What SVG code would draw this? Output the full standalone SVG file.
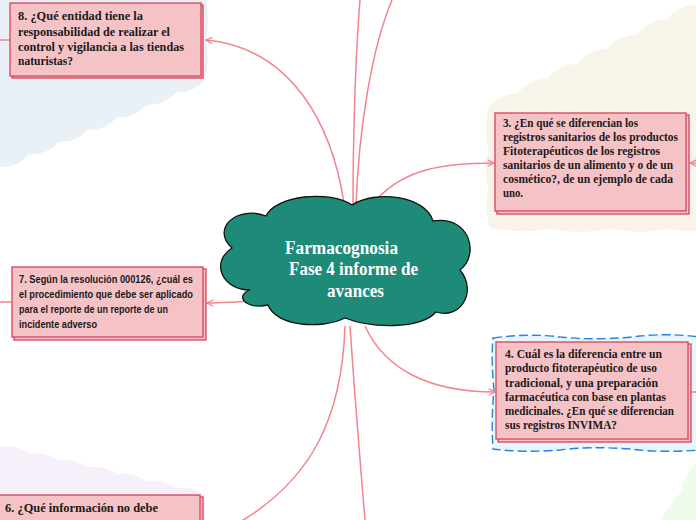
<svg xmlns="http://www.w3.org/2000/svg" width="696" height="520" viewBox="0 0 696 520">
<defs>
<style>
.bx{fill:#f5c3c6;stroke:#d8435c;stroke-width:1.3}
.t{font-family:"Liberation Serif","DejaVu Serif",serif;font-weight:bold;font-size:12.5px;fill:#1a1a1a}
.ts{font-family:"Liberation Sans","DejaVu Sans",sans-serif;font-weight:bold;font-size:11.5px;fill:#1a1a1a}
.c{font-family:"Liberation Serif","DejaVu Serif",serif;font-weight:bold;font-size:18px;fill:#ffffff}
.ln{fill:none;stroke:#f4828f;stroke-width:1.5}
</style>
<marker id="arr" viewBox="0 0 10 10" refX="9" refY="5" markerWidth="8" markerHeight="8" markerUnits="userSpaceOnUse" orient="auto">
<path d="M1,1 L9,5 L1,9" fill="none" stroke="#f4828f" stroke-width="1.6"/>
</marker>
</defs>
<rect width="696" height="520" fill="#ffffff"/>
<g id="backgrounds">
<path fill="#e9f1f7" d="M0,0 H206 Q210,20 206,40 Q210,60 205,80 Q193.4,93.2 175.7,92.4 Q164,105.7 146.4,104.9 Q134.8,118.1 117.1,117.3 Q105.5,130.5 87.9,129.7 Q76.2,142.9 58.6,142.1 Q47,155.4 29.3,154.6 Q17.6,167.8 0,167 Z"/>
<path fill="#f8f4e9" d="M696,5 Q678.1,5.4 666.3,19.7 Q648.4,20.1 636.6,34.4 Q618.7,34.8 606.9,49.1 Q589,49.5 577.1,63.9 Q559.3,64.3 547.4,78.6 Q529.6,79 517.7,93.3 Q499.9,93.7 488,108 Q484,130 488,150 Q484,170 488,190 Q484,210 490,228 Q520,234 550,229 Q580,235 610,229 Q640,235 670,229 Q685,233 696,230 Z"/>
<path fill="#e6f7fb" stroke="#2a7fe0" stroke-width="1.4" stroke-dasharray="9 4" d="M493,338 Q530,333 560,337 Q600,341 640,336 Q670,333 700,337 L700,450 Q660,453 630,449 Q590,446 560,450 Q525,453 493,449 Q491,420 494,390 Q491,360 493,338 Z"/>
<path fill="#eefaea" d="M696,462 Q690,468 688,475 Q680,485 682,492 Q672,500 670,508 Q662,512 662,520 L696,520 Z"/>
<path fill="#f6f0fb" d="M0,447 Q16.1,443.9 29.3,453.9 Q45.5,450.8 58.6,460.7 Q74.7,457.6 87.9,467.6 Q104,464.5 117.1,474.4 Q133.3,471.4 146.4,481.3 Q162.5,478.2 175.7,488.1 Q191.9,485.1 205,495 L205,520 L0,520 Z"/>
</g>
<g id="connectors">
<path class="ln" d="M353,205 C353,150 355,60 360,0"/>
<path class="ln" d="M356,205 C359,130 371,50 392,0"/>
<path class="ln" d="M344,203 C332,125 292,48 206,40" marker-end="url(#arr)"/>
<path class="ln" d="M378,198 C405,170 440,163 494,163" marker-end="url(#arr)"/>
<path class="ln" d="M252,301 C235,302 222,303 207,303" marker-end="url(#arr)"/>
<path class="ln" d="M365,326 C385,370 430,392 495,392" marker-end="url(#arr)"/>
<path class="ln" d="M350,326 C355,400 360,460 365,520"/>
<path class="ln" d="M345,326 C342,420 310,480 240,522"/>
<path class="ln" d="M0,40 H10"/>
<path class="ln" d="M0,302 H12"/>
<path class="ln" d="M696,163 H690" marker-end="url(#arr)"/>
<path class="ln" d="M690,392 H696"/>
</g>
<g id="node-center">
<path fill="#1e8a78" stroke="#111" stroke-width="1.3" d="M250,290 C222,290 210,262 232,248 C210,228 238,205 266,216 C276,195 330,190 352,205 C375,190 425,195 433,221 C470,215 480,255 460,270 C478,292 460,320 436,312 C420,330 370,328 345,318 C320,330 276,326 268,305 C246,310 234,296 250,290 Z"/>
<text class="c" x="285" y="254" textLength="113" lengthAdjust="spacingAndGlyphs">Farmacognosia</text>
<text class="c" x="289" y="275" textLength="129" lengthAdjust="spacingAndGlyphs">Fase 4 informe de</text>
<text class="c" x="327" y="297" textLength="57" lengthAdjust="spacingAndGlyphs">avances</text>
</g>
<g id="node-8">
<rect class="bx" x="12" y="5" width="191" height="73"/>
<rect class="bx" x="10" y="3" width="191" height="73"/>
<text class="t" x="18" y="20" textLength="125" lengthAdjust="spacingAndGlyphs">8. ¿Qué entidad tiene la</text>
<text class="t" x="18" y="36" textLength="152" lengthAdjust="spacingAndGlyphs">responsabilidad de realizar el</text>
<text class="t" x="18" y="51" textLength="166" lengthAdjust="spacingAndGlyphs">control y vigilancia a las tiendas</text>
<text class="t" x="18" y="65" textLength="55" lengthAdjust="spacingAndGlyphs">naturistas?</text>
</g>
<g id="node-3">
<rect class="bx" x="497" y="115" width="192" height="99"/>
<rect class="bx" x="495" y="113" width="191" height="98"/>
<text class="t" x="503" y="127" textLength="135" lengthAdjust="spacingAndGlyphs">3. ¿En qué se diferencian los</text>
<text class="t" x="503" y="141" textLength="175" lengthAdjust="spacingAndGlyphs">registros sanitarios de los productos</text>
<text class="t" x="503" y="155" textLength="157" lengthAdjust="spacingAndGlyphs">Fitoterapéuticos de los registros</text>
<text class="t" x="503" y="169" textLength="170" lengthAdjust="spacingAndGlyphs">sanitarios de un alimento y o de un</text>
<text class="t" x="503" y="183" textLength="170" lengthAdjust="spacingAndGlyphs">cosmético?, de un ejemplo de cada</text>
<text class="t" x="503" y="197" textLength="20" lengthAdjust="spacingAndGlyphs">uno.</text>
</g>
<g id="node-4">
<rect class="bx" x="498" y="344" width="193" height="98"/>
<rect class="bx" x="496" y="342" width="192" height="97"/>
<text class="t" x="505" y="358" textLength="157" lengthAdjust="spacingAndGlyphs">4. Cuál es la diferencia entre un</text>
<text class="t" x="505" y="372" textLength="152" lengthAdjust="spacingAndGlyphs">producto fitoterapéutico de uso</text>
<text class="t" x="505" y="387" textLength="153" lengthAdjust="spacingAndGlyphs">tradicional, y una preparación</text>
<text class="t" x="505" y="401" textLength="161" lengthAdjust="spacingAndGlyphs">farmacéutica con base en plantas</text>
<text class="t" x="505" y="415" textLength="169" lengthAdjust="spacingAndGlyphs">medicinales. ¿En qué se diferencian</text>
<text class="t" x="505" y="429" textLength="112" lengthAdjust="spacingAndGlyphs">sus registros INVIMA?</text>
</g>
<g id="node-7">
<rect class="bx" x="14" y="269" width="192" height="71"/>
<rect class="bx" x="12" y="267" width="191" height="70"/>
<text class="ts" x="19" y="283" textLength="174" lengthAdjust="spacingAndGlyphs">7. Según la resolución 000126, ¿cuál es</text>
<text class="ts" x="19" y="298" textLength="174" lengthAdjust="spacingAndGlyphs">el procedimiento que debe ser aplicado</text>
<text class="ts" x="19" y="313" textLength="149" lengthAdjust="spacingAndGlyphs">para el reporte de un reporte de un</text>
<text class="ts" x="19" y="328" textLength="78" lengthAdjust="spacingAndGlyphs">incidente adverso</text>
</g>
<g id="node-6">
<rect class="bx" x="2" y="497" width="201" height="40"/>
<rect class="bx" x="-2" y="495" width="202" height="40"/>
<text class="t" x="5" y="512" textLength="153" lengthAdjust="spacingAndGlyphs">6. ¿Qué información no debe</text>
</g>
</svg>
